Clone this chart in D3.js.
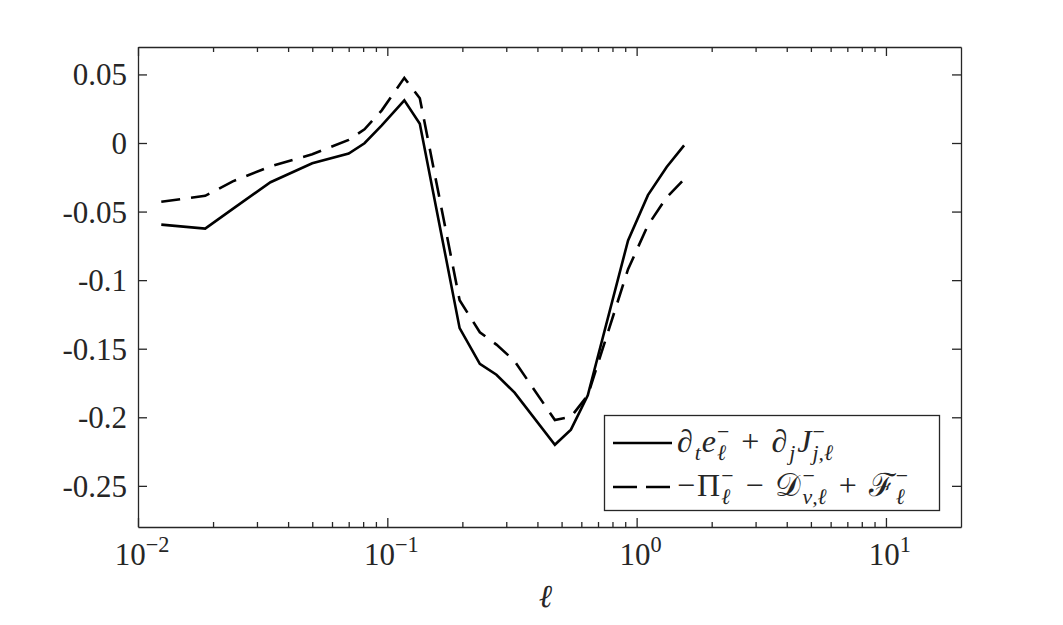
<!DOCTYPE html>
<html>
<head>
<meta charset="utf-8">
<title>Scale budget</title>
<script src="https://d3js.org/d3.v7.min.js"></script>
<style>
  body { margin: 0; background: #fff; }
  text { font-family: "Liberation Serif", "DejaVu Serif", serif; fill: #262626; }
</style>
</head>
<body>
<div id="chart"></div>
<script>
// scale l (log axis)
var ell = [0.0124, 0.0186, 0.024, 0.034, 0.05, 0.07, 0.081, 0.095, 0.117, 0.135,
           0.195, 0.235, 0.274, 0.324, 0.47, 0.545, 0.637, 0.924, 1.11, 1.32, 1.55];
// d_t e + d_j J  (solid)
var lhs = [-0.0595, -0.0624, -0.048, -0.0286, -0.0148, -0.0077, -0.0002, 0.0129, 0.0311, 0.0141,
           -0.135, -0.161, -0.169, -0.182, -0.220, -0.209, -0.184, -0.071, -0.038, -0.0175, -0.0017];
// -Pi - D + F  (dashed)
var rhs = [-0.0429, -0.0385, -0.028, -0.017, -0.0082, 0.0023, 0.010, 0.0238, 0.0475, 0.0326,
           -0.1147, -0.138, -0.147, -0.159, -0.202, -0.1997, -0.184, -0.092, -0.060, -0.0396, -0.0265];

var xTicks = [0.01, 0.1, 1, 10];
var xTickExp = ["\u22122", "\u22121", "0", "1"];
var yTicks = [0.05, 0, -0.05, -0.1, -0.15, -0.2, -0.25];
var yTickLabels = ["0.05", "0", "-0.05", "-0.1", "-0.15", "-0.2", "-0.25"];

var W = 1063, H = 625;
var margin = {top: 47, right: 102, bottom: 98, left: 138},
    width = W - margin.left - margin.right,
    height = H - margin.top - margin.bottom;

var svg = d3.select("#chart").append("svg")
    .attr("width", W).attr("height", H);
var g = svg.append("g")
    .attr("transform", "translate(" + margin.left + "," + margin.top + ")");

var x = d3.scaleLog().domain([0.01, 20]).range([0, width]);
var y = d3.scaleLinear().domain([-0.28, 0.07]).range([height, 0]);

// minor ticks for log axis
var minor = [];
[0.01, 0.1, 1, 10].forEach(function(d) {
  for (var k = 2; k <= 9; k++) { if (d * k < 20) minor.push(d * k); }
});

var axisCol = "#262626";
var fs = 31;

// bottom axis
g.append("g").attr("transform", "translate(0," + height + ")")
  .call(d3.axisBottom(x).tickValues(xTicks).tickSizeInner(-9).tickSizeOuter(0).tickFormat(""));
g.append("g").attr("transform", "translate(0," + height + ")")
  .call(d3.axisBottom(x).tickValues(minor).tickSizeInner(-5).tickSizeOuter(0).tickFormat(""))
  .select(".domain").remove();
// top axis
g.append("g")
  .call(d3.axisTop(x).tickValues(xTicks).tickSizeInner(-9).tickSizeOuter(0).tickFormat(""));
g.append("g")
  .call(d3.axisTop(x).tickValues(minor).tickSizeInner(-5).tickSizeOuter(0).tickFormat(""))
  .select(".domain").remove();
// left / right axis
var yl = g.append("g")
  .call(d3.axisLeft(y).tickValues(yTicks).tickSizeInner(-9).tickSizeOuter(0)
    .tickFormat(function(d, i) { return yTickLabels[i]; }));
g.append("g").attr("transform", "translate(" + width + ",0)")
  .call(d3.axisRight(y).tickValues(yTicks).tickSizeInner(-9).tickSizeOuter(0).tickFormat(""));

g.selectAll(".domain").attr("stroke", axisCol).attr("stroke-width", 1.3);
g.selectAll(".tick line").attr("stroke", axisCol).attr("stroke-width", 1.3);
yl.selectAll(".tick text")
  .attr("x", -11).attr("dy", "0.34em")
  .style("font-size", fs + "px").style("fill", axisCol)
  .style("font-family", "'Liberation Serif', serif");

// x tick labels 10^n
var xl = g.append("g").attr("transform", "translate(0," + height + ")");
xTicks.forEach(function(d, i) {
  var t = xl.append("text")
    .attr("y", 38)
    .style("font-size", fs + "px");
  t.append("tspan").text("10");
  t.append("tspan").attr("dy", -13).style("font-size", (fs * 0.72) + "px").text(xTickExp[i]);
  var w = t.node().getComputedTextLength();
  t.attr("x", x(d) - w / 2 + 4);
});

// x label
g.append("text")
  .attr("x", width / 2 - 4).attr("y", height + 80)
  .attr("text-anchor", "middle")
  .style("font-size", "32px").style("font-style", "italic")
  .text("\u2113");

// lines
var line = d3.line()
  .x(function(d) { return x(d[0]); })
  .y(function(d) { return y(d[1]); });

g.append("path")
  .datum(d3.zip(ell, rhs))
  .attr("fill", "none").attr("stroke", "#000").attr("stroke-width", 2.6)
  .attr("stroke-dasharray", "19,11")
  .attr("d", line);

g.append("path")
  .datum(d3.zip(ell, lhs))
  .attr("fill", "none").attr("stroke", "#000").attr("stroke-width", 2.6)
  .attr("d", line);

// legend
var lfs = 32;
var lg = svg.append("g");
lg.append("rect")
  .attr("x", 604.5).attr("y", 415.5).attr("width", 335).attr("height", 95)
  .attr("fill", "#fff").attr("stroke", axisCol).attr("stroke-width", 1.3);
lg.append("line").attr("x1", 613).attr("x2", 672).attr("y1", 443).attr("y2", 443)
  .attr("stroke", "#000").attr("stroke-width", 2.6);
lg.append("line").attr("x1", 613).attr("x2", 672).attr("y1", 487).attr("y2", 487)
  .attr("stroke", "#000").attr("stroke-width", 2.6).attr("stroke-dasharray", "24,9");

// lays out a row of math: plain pieces, and sup/sub pairs stacked in one text
function mathRow(parent, x0, y0, items) {
  var cx = x0;
  items.forEach(function(it) {
    if (it.sup !== undefined || it.sub !== undefined) {
      var t = parent.append("text").style("font-size", (lfs * 0.68) + "px");
      var w = 0;
      if (it.sup !== undefined) {
        var a = t.append("tspan").attr("x", cx + 1).attr("y", y0 - 13).text(it.sup);
        w = Math.max(w, a.node().getComputedTextLength() + 1);
      }
      if (it.sub !== undefined) {
        var b = t.append("tspan").attr("x", cx + 1).attr("y", y0 + 8)
          .style("font-style", "italic").text(it.sub);
        w = Math.max(w, b.node().getComputedTextLength() + 1);
      }
      cx += w + (it.gap || 0);
    } else {
      var s = parent.append("text").attr("x", cx).attr("y", y0)
        .style("font-size", lfs + "px")
        .style("font-style", it.it ? "italic" : "normal").text(it.s);
      cx += s.node().getComputedTextLength() + (it.gap || 0);
    }
  });
}

mathRow(lg, 677, 452, [
  {s: "\u2202", gap: 1}, {sub: "t", gap: 1}, {s: "e", it: true}, {sup: "\u2212", sub: "\u2113", gap: 12},
  {s: "+", gap: 12}, {s: "\u2202", gap: 1}, {sub: "j", gap: 2}, {s: "J", it: true}, {sup: "\u2212", sub: "j,\u2113"}
]);
mathRow(lg, 677, 496, [
  {s: "\u2212", gap: 2}, {s: "\u03A0"}, {sup: "\u2212", sub: "\u2113", gap: 12},
  {s: "\u2212", gap: 12}, {s: "\uD835\uDC9F"}, {sup: "\u2212", sub: "\u03BD,\u2113", gap: 12},
  {s: "+", gap: 12}, {s: "\u2131"}, {sup: "\u2212", sub: "\u2113"}
]);
</script>
</body>
</html>
